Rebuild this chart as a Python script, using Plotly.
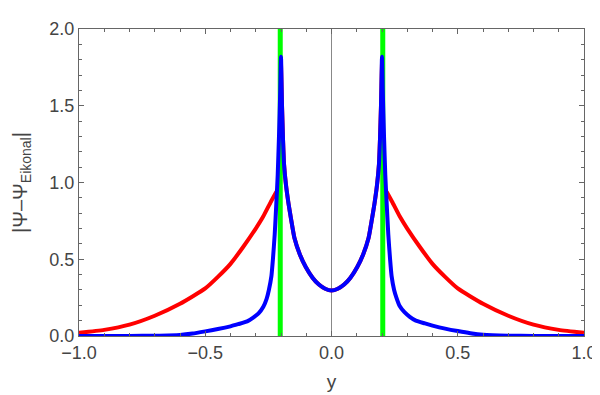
import plotly.graph_objects as go

# red curve
x_red = [-1.0, -0.9, -0.8, -0.7, -0.6, -0.5, -0.45, -0.4, -0.35, -0.3, -0.27, -0.24, -0.22, -0.21, -0.205,
         -0.201, -0.196, -0.192, -0.188, -0.18, -0.17, -0.16, -0.147, -0.125, -0.102, -0.075, -0.05, -0.025,
         0.0, 0.025, 0.05, 0.075, 0.102, 0.125, 0.147, 0.16, 0.17, 0.18, 0.188, 0.192, 0.196, 0.201,
         0.205, 0.21, 0.22, 0.24, 0.27, 0.3, 0.35, 0.4, 0.45, 0.5, 0.6, 0.7, 0.8, 0.9, 1.0]
red = [0.021, 0.04, 0.074, 0.132, 0.21, 0.31, 0.385, 0.47, 0.58, 0.7, 0.78, 0.875, 0.935, 0.96, 0.975,
       1.82, 1.5, 1.28, 1.12, 0.98, 0.86, 0.76, 0.64, 0.53, 0.45, 0.38, 0.335, 0.308,
       0.297, 0.308, 0.335, 0.38, 0.45, 0.53, 0.64, 0.76, 0.86, 0.98, 1.12, 1.28, 1.5, 1.82,
       0.975, 0.96, 0.935, 0.875, 0.78, 0.7, 0.58, 0.47, 0.385, 0.31, 0.21, 0.132, 0.074, 0.04, 0.021]

# blue curve
x_blue = [-1.0, -0.9, -0.8, -0.7, -0.6, -0.55, -0.5, -0.45, -0.4, -0.37, -0.334, -0.31, -0.289, -0.27,
          -0.257, -0.248, -0.238, -0.232, -0.225, -0.218, -0.213, -0.208, -0.203, -0.2,
          -0.196, -0.192, -0.188, -0.18, -0.17, -0.16, -0.147, -0.125, -0.102, -0.075, -0.05, -0.025,
          0.0, 0.025, 0.05, 0.075, 0.102, 0.125, 0.147, 0.16, 0.17, 0.18, 0.188, 0.192, 0.196,
          0.2, 0.203, 0.208, 0.213, 0.218, 0.225, 0.232, 0.238, 0.248, 0.257, 0.27, 0.289, 0.31,
          0.334, 0.37, 0.4, 0.45, 0.5, 0.55, 0.6, 0.7, 0.8, 0.9, 1.0]
blue = [0.0, 0.0, 0.0, 0.002, 0.007, 0.016, 0.03, 0.045, 0.063, 0.077, 0.095, 0.12, 0.147, 0.19,
        0.242, 0.3, 0.39, 0.5, 0.66, 0.88, 1.05, 1.3, 1.6, 1.82,
        1.5, 1.28, 1.12, 0.98, 0.86, 0.76, 0.64, 0.53, 0.45, 0.38, 0.335, 0.308,
        0.297, 0.308, 0.335, 0.38, 0.45, 0.53, 0.64, 0.76, 0.86, 0.98, 1.12, 1.28, 1.5,
        1.82, 1.6, 1.3, 1.05, 0.88, 0.66, 0.5, 0.39, 0.3, 0.25, 0.195, 0.155, 0.125,
        0.1, 0.082, 0.068, 0.048, 0.032, 0.018, 0.008, 0.002, 0.0, 0.0, 0.0]

# green vertical markers
green_x = [-0.203, 0.203]

fig = go.Figure()
fig.add_trace(go.Scatter(x=x_red, y=red, mode='lines',
                         line=dict(color='#FF0000', width=4, shape='spline', smoothing=0.5)))
for gx in green_x:
    fig.add_trace(go.Scatter(x=[gx, gx], y=[0, 2], mode='lines', line=dict(color='#00FF00', width=5)))
fig.add_trace(go.Scatter(x=x_blue, y=blue, mode='lines',
                         line=dict(color='#0000FF', width=4, shape='spline', smoothing=0.5)))

axis_style = dict(
    showline=True, linecolor='#666666', linewidth=1, mirror='ticks',
    ticks='inside', ticklen=5, tickcolor='#666666', tickwidth=1,
    minor=dict(ticks='inside', ticklen=3, dtick=0.1, tickcolor='#666666'),
    showgrid=False, tickfont=dict(size=18, color='#444444'),
)

fig.update_layout(
    width=600, height=395,
    margin=dict(l=68, r=16, t=11, b=67),
    plot_bgcolor='white', paper_bgcolor='white',
    showlegend=False,
    font=dict(family='Liberation Sans, Arial, sans-serif', color='#444444'),
    xaxis=dict(range=[-1, 1], tickvals=[-1, -0.5, 0, 0.5, 1], ticktext=['\u22121.0', '\u22120.5', '0.0', '0.5', '1.0'],
               zeroline=True, zerolinecolor='#888888', zerolinewidth=1,
               title=dict(text='y', font=dict(size=19, color='#444444'), standoff=13), **axis_style),
    yaxis=dict(range=[0, 2], tickvals=[0, 0.5, 1, 1.5, 2], ticktext=['0.0', '0.5', '1.0', '1.5', '2.0'],
               zeroline=False,
               title=dict(text='|\u03a8\u2013\u03a8<sub>Eikonal</sub>|', font=dict(size=20, color='#444444'), standoff=16),
               **axis_style),
)

fig.write_html("out.html")
